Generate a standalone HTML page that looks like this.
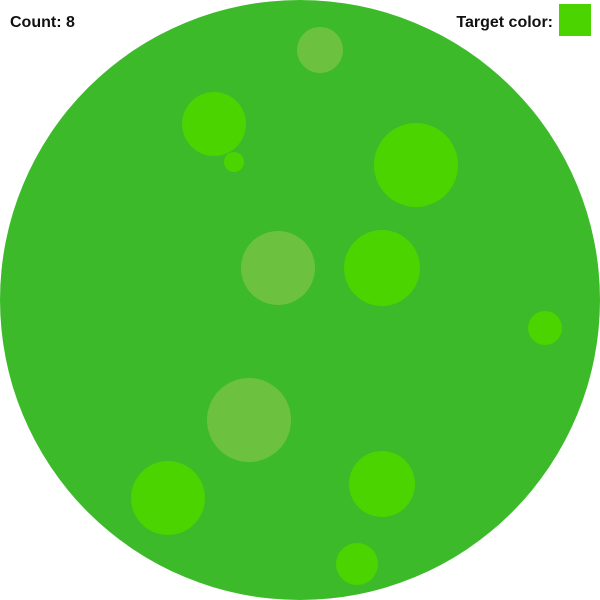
<!DOCTYPE html>
<html><head><meta charset="utf-8">
<style>
html,body{margin:0;padding:0;background:#fff;width:600px;height:600px;overflow:hidden;font-family:"Liberation Sans",sans-serif;}
svg{position:absolute;left:0;top:0;}
</style></head>
<body>
<svg width="600" height="600">
  <circle cx="300" cy="300" r="300" fill="#3cba2a"/>
  <g id="dots"></g>
  <text x="10" y="27" font-size="16" font-weight="bold" fill="#111">Count: 8</text>
  <text x="553" y="27" font-size="16" font-weight="bold" fill="#111" text-anchor="end">Target color:</text>
  <rect x="559" y="4" width="32" height="32" fill="#4cd400"/>
</svg>
<script>
const xs = [320,214,234,416,278,382,545,249,168,382,357];
const ys = [50,124,162,165,268,268,328,420,498,484,564];
const rs = [23,32,10,42,37,38,17,42,37,33,21];
const isTarget = [0,1,1,1,0,1,1,0,1,1,1];
const g = document.getElementById('dots');
const NS = 'http://www.w3.org/2000/svg';
for (let i = 0; i < xs.length; i++) {
  const c = document.createElementNS(NS, 'circle');
  c.setAttribute('cx', xs[i]);
  c.setAttribute('cy', ys[i]);
  c.setAttribute('r', rs[i]);
  c.setAttribute('fill', isTarget[i] ? '#4cd400' : '#6cc23f');
  
  
  g.appendChild(c);
}
</script>
</body></html>
